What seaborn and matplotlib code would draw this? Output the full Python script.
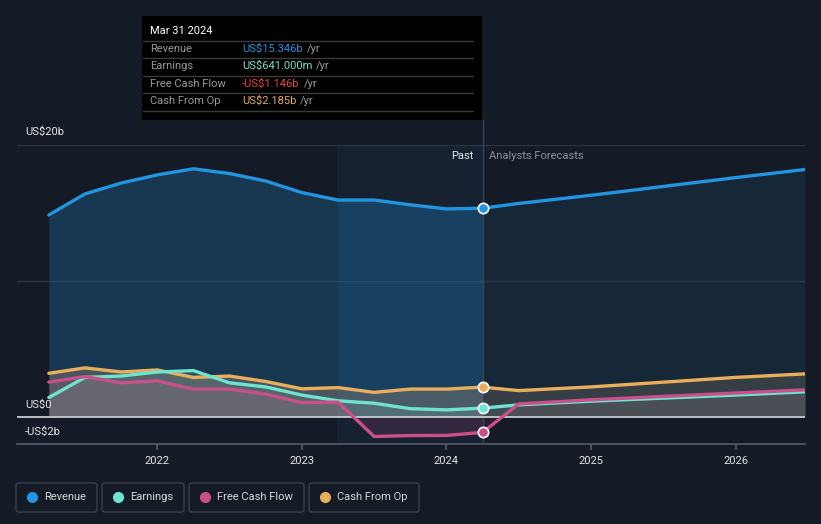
import numpy as np
import pandas as pd
import matplotlib
matplotlib.use("Agg")
import matplotlib.pyplot as plt
from matplotlib.patches import FancyBboxPatch, Rectangle
from matplotlib.lines import Line2D
import seaborn as sns

# ---------------- data (US$ billions) ----------------
past_years = [2021.25, 2021.5, 2021.75, 2022.0, 2022.25, 2022.5, 2022.75,
              2023.0, 2023.25, 2023.5, 2023.75, 2024.0, 2024.25]
revenue_past = [14.85, 16.4, 17.2, 17.8, 18.25, 17.9, 17.35, 16.5, 15.95, 15.95, 15.6, 15.3, 15.346]
earnings_past = [1.42, 2.9, 3.0, 3.3, 3.4, 2.5, 2.2, 1.6, 1.18, 1.0, 0.6, 0.51, 0.641]
fcf_past = [2.55, 2.96, 2.5, 2.65, 2.04, 2.04, 1.67, 1.05, 1.08, -1.45, -1.38, -1.37, -1.146]
cfo_past = [3.2, 3.6, 3.3, 3.45, 2.9, 3.0, 2.6, 2.06, 2.15, 1.8, 2.04, 2.04, 2.185]

fc_years = [2024.25, 2024.5, 2025.0, 2026.0, 2026.48]
revenue_fc = [15.346, 15.7, 16.3, 17.6, 18.2]
earnings_fc = [0.641, 0.88, 1.15, 1.6, 1.84]
fcf_fc = [-1.146, 0.95, 1.25, 1.75, 1.98]
cfo_fc = [2.185, 1.93, 2.2, 2.9, 3.16]

series_names = ["Revenue", "Earnings", "Free Cash Flow", "Cash From Op"]
series_colors = ["#2394df", "#6fe3cf", "#c9508b", "#e8ae5c"]
tooltip_date = "Mar 31 2024"
tooltip_values = ["US$15.346b", "US$641.000m", "-US$1.146b", "US$2.185b"]
tooltip_value_colors = ["#2394df", "#6fe3cf", "#f0433f", "#e8ae5c"]
x_ticks = [2022, 2023, 2024, 2025, 2026]
y_labels = {20: "US$20b", 0: "US$0", -2: "-US$2b"}
now_x = 2024.25
past_start = 2023.24

# ---------------- figure ----------------
W, H = 821, 524
BG = "#151b26"
sns.set_theme(style="dark")
plt.rcParams["font.family"] = ["Roboto", "DejaVu Sans"]
fig = plt.figure(figsize=(W / 100, H / 100), dpi=100, facecolor=BG)

def fx(x):
    return x / W

def fy(y):
    return 1 - y / H

L, R, T, B = 17, 805, 145, 444
ax = fig.add_axes([fx(L), fy(B), fx(R) - fx(L), fy(T) - fy(B)])
ax.set_facecolor(BG)
ax.set_xlim(2021.03, 2026.48)
ax.set_ylim(-2, 20)
for s in ax.spines.values():
    s.set_visible(False)

# past highlight
ax.axvspan(past_start, now_x, color="#1d4f7c", alpha=0.13, lw=0, zorder=0)

# gridlines
for g in [10, 20]:
    ax.axhline(g, color="#2c3340", lw=1, zorder=1)

past = pd.DataFrame({"year": past_years, "Revenue": revenue_past, "Earnings": earnings_past,
                     "Free Cash Flow": fcf_past, "Cash From Op": cfo_past})
fc = pd.DataFrame({"year": fc_years, "Revenue": revenue_fc, "Earnings": earnings_fc,
                   "Free Cash Flow": fcf_fc, "Cash From Op": cfo_fc})

# fills
ax.fill_between(past["year"], past["Revenue"], 0, color="#2080c0", alpha=0.28, lw=0, zorder=1)
hl = (past["year"] >= past_start)
ax.fill_between(past["year"][hl], past["Revenue"][hl], 0, color="#2080c0", alpha=0.08, lw=0, zorder=1)
ax.fill_between(fc["year"], fc["Revenue"], 0, color="#2080c0", alpha=0.12, lw=0, zorder=1)
for name, col in zip(series_names[1:], series_colors[1:]):
    ax.fill_between(past["year"], past[name], 0, color=col, alpha=0.16, lw=0, zorder=2)
    ax.fill_between(fc["year"], fc[name], 0, color=col, alpha=0.10, lw=0, zorder=2)
ax.fill_between(past["year"], past["Cash From Op"], 0, color="#9a8a95", alpha=0.18, lw=0, zorder=2)
ax.fill_between(fc["year"], fc["Cash From Op"], 0, color="#8a8a95", alpha=0.12, lw=0, zorder=2)

# now line (extends up to the tooltip)
ax.axvline(now_x, ymin=0, ymax=(B - 120) / (B - T), color="#34475a", lw=1, zorder=3, clip_on=False)

# lines
order = ["Cash From Op", "Earnings", "Free Cash Flow", "Revenue"]
cmap = dict(zip(series_names, series_colors))
for name in order:
    sns.lineplot(x=past["year"], y=past[name], color=cmap[name], lw=2.4, ax=ax, zorder=4)
    sns.lineplot(x=fc["year"], y=fc[name], color=cmap[name], lw=2.4, ax=ax, zorder=4)
    ax.scatter([now_x], [past[name].iloc[-1]], s=55, color=cmap[name], edgecolor="white",
               linewidth=1.2, zorder=6)

# zero line
ax.axhline(0, color="#c8cbd0", lw=1.3, zorder=3)

ax.set_xlabel("")
ax.set_ylabel("")
ax.set_yticks([])
ax.set_xticks(x_ticks)
ax.set_xticklabels([str(t) for t in x_ticks], color="#e6e6e6", fontsize=8)
ax.tick_params(axis="x", length=4, color="#555b66", pad=5, bottom=True)
ax.spines["bottom"].set_visible(True)
ax.spines["bottom"].set_color("#555b66")
ax.grid(False)

# y labels
fig.text(fx(25), fy(132), y_labels[20], color="#e6e6e6", fontsize=8, va="center", ha="left")
fig.text(fx(25), fy(405), y_labels[0], color="#e6e6e6", fontsize=8, va="center", ha="left")
fig.text(fx(25), fy(432), y_labels[-2], color="#e6e6e6", fontsize=8, va="center", ha="left")

# Past / forecast labels
fig.text(fx(473), fy(156), "Past", color="#e6e6e6", fontsize=8, ha="right", va="center")
fig.text(fx(489), fy(156), "Analysts Forecasts", color="#8d929a", fontsize=8, ha="left", va="center")

# tooltip
fig.add_artist(Rectangle((fx(142), fy(120)), fx(482) - fx(142), fy(16) - fy(120),
                         transform=fig.transFigure, facecolor="#000000", edgecolor="none", zorder=10))
fig.text(fx(150), fy(31), tooltip_date, color="#ffffff", fontsize=8, ha="left", va="center", zorder=11)
for yy in [41, 58, 76, 93, 111]:
    fig.add_artist(Line2D([fx(143), fx(473)], [fy(yy), fy(yy)], color="#3a3a3a", lw=1, zorder=11))
row_y = [49, 66, 84, 101]
for name, val, vcol, yy in zip(series_names, tooltip_values, tooltip_value_colors, row_y):
    fig.text(fx(150), fy(yy), name, color="#9a9a9a", fontsize=8, ha="left", va="center", zorder=11)
    t = fig.text(fx(242), fy(yy), val, color=vcol, fontsize=8, ha="left", va="center", zorder=11)
    fig.canvas.draw()
    bb = t.get_window_extent()
    fig.text(bb.x1 / W + fx(4), fy(yy), "/yr", color="#9a9a9a", fontsize=8, ha="left", va="center", zorder=11)

# legend boxes
boxes = [(16, 97), (102, 184), (189, 304), (309, 419)]
for (x0, x1), name, col in zip(boxes, series_names, series_colors):
    fig.add_artist(FancyBboxPatch((fx(x0), fy(512)), fx(x1) - fx(x0), fy(483) - fy(512),
                                  boxstyle="round,pad=0,rounding_size=0.004",
                                  transform=fig.transFigure, facecolor="none",
                                  edgecolor="#3b404b", lw=1))
    fig.add_artist(Line2D([fx(x0 + 16)], [fy(497)], marker="o", markersize=7,
                          color=col, markeredgecolor=col, lw=0))
    fig.text(fx(x0 + 28), fy(497), name, color="#d8d8d8", fontsize=8, ha="left", va="center")

fig.savefig("out.png", dpi=100, facecolor=BG)
